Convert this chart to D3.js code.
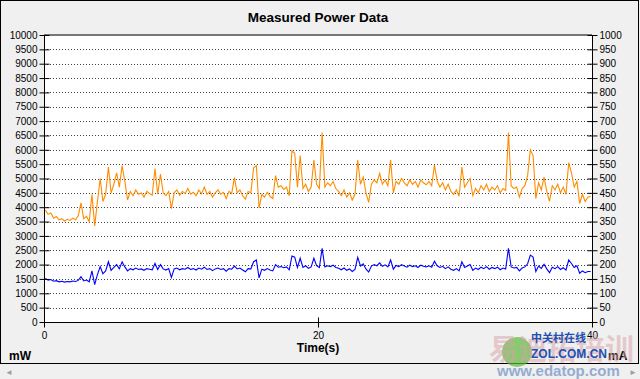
<!DOCTYPE html>
<html>
<head>
<meta charset="utf-8">
<script src="https://cdnjs.cloudflare.com/ajax/libs/d3/7.8.5/d3.min.js"></script>
<style>
  html, body { margin: 0; padding: 0; background: #f0f0f0; }
  svg { display: block; font-family: "Liberation Sans", Arial, sans-serif; }
</style>
</head>
<body>
<div id="chart"></div>
<script>
// samples every 0.2 s, first one at 0.1 s
var startTime = 0.1, timeStep = 0.2;

// power, mW (left axis)
var powerMW = [
  3900,3750,3800,3620,3680,3560,3600,3520,3580,3540,
  3620,3560,3700,4150,3600,3680,3500,4450,3350,4200,
  5000,4200,4450,5400,4500,4800,5200,4700,5450,4900,
  4250,4550,4400,4600,4450,4500,4350,4550,4480,4420,
  5350,4450,5150,4500,4400,4550,3950,4500,4600,4420,
  4550,4480,4650,4450,4520,4400,4600,4470,4700,4450,
  4550,4350,4500,4600,4450,4520,4300,4550,4480,5030,
  4500,4600,4400,4280,4550,4500,5370,5450,3970,4450,
  4350,4520,4380,4300,5100,4700,4750,4620,4700,4400,
  5960,5880,4700,5800,4650,4800,4550,4700,5640,4800,
  4650,6600,4700,4850,4750,4900,4650,4550,4400,4600,
  4350,4500,4250,4450,5640,4800,5050,4500,4170,4800,
  4950,4850,5180,4800,4950,4750,5640,4500,4900,4800,
  5000,4850,4750,4950,4800,4900,4700,4950,4850,4780,
  4900,4750,5470,4900,4700,4850,4600,4800,4550,4450,
  4600,4380,5400,4700,4850,5000,4400,4650,4500,4750,
  4600,4800,4550,4700,4600,4750,4500,4650,4580,6600,
  4750,4650,4700,4350,4650,4750,5100,6000,5800,4300,
  4850,4600,5050,4550,4200,4750,4600,4800,4500,4700,
  4450,5550,5200,4700,4900,4130,4450,4200,4350,4380
];

// current, mA (right axis)
var currentMA = [
  152,146,148,142,144,140,142,139,141,140,
  143,141,145,158,143,146,140,178,130,165,
  193,168,178,210,180,190,200,185,210,192,
  178,186,182,188,183,185,180,186,184,182,
  204,183,200,185,181,186,155,185,188,182,
  186,184,190,183,186,181,188,184,191,183,
  186,179,185,188,183,186,177,186,184,195,
  185,188,181,175,186,185,210,216,154,184,
  180,186,181,178,200,191,193,189,192,182,
  230,226,190,222,190,196,187,192,222,196,
  190,257,192,196,193,198,190,187,182,188,
  180,185,176,183,225,195,203,185,174,195,
  200,196,206,194,199,192,216,184,197,193,
  200,195,191,198,193,196,190,198,194,192,
  196,191,212,196,190,194,186,192,184,180,
  186,178,210,190,195,200,180,188,183,191,
  186,193,184,190,186,191,182,188,185,257,
  192,188,190,178,188,192,203,233,226,176,
  195,187,201,185,172,191,186,193,183,189,
  181,216,204,190,196,170,178,172,176,176
];

var leftTicks = d3.range(0, 10001, 500);
var rightTicks = d3.range(0, 1001, 50);
var timeTicks = [0, 20, 40];

var W = 640, H = 379;
var svg = d3.select("#chart").append("svg").attr("width", W).attr("height", H);

// window frame
svg.append("rect").attr("x", 0.5).attr("y", 0.5).attr("width", 638).attr("height", 363)
  .attr("fill", "#f0f0f0").attr("stroke", "#000");
svg.append("text").attr("x", 5).attr("y", 375).attr("font-size", 8).attr("fill", "#a0a0a0").text("◄");
svg.append("text").attr("x", 629).attr("y", 375).attr("font-size", 8).attr("fill", "#a0a0a0").text("►");

var x = d3.scaleLinear().domain([0, 40]).range([44, 592]);
var yL = d3.scaleLinear().domain([0, 10000]).range([322, 35]);
var yR = d3.scaleLinear().domain([0, 1000]).range([322, 35]);

svg.append("rect").attr("x", 44).attr("y", 35).attr("width", 548).attr("height", 287).attr("fill", "#fff");

// dotted grid
svg.append("g").selectAll("line").data(leftTicks.filter(function(d) { return d > 0 && d < 10000; }))
  .enter().append("line")
  .attr("x1", 44).attr("x2", 592)
  .attr("y1", function(d) { return Math.round(yL(d)) + 0.5; })
  .attr("y2", function(d) { return Math.round(yL(d)) + 0.5; })
  .attr("stroke", "#444").attr("stroke-dasharray", "1,2");

svg.append("line").attr("x1", 44).attr("x2", 592).attr("y1", 35).attr("y2", 35)
  .attr("stroke", "#777").attr("stroke-width", 2);

// series
var power = powerMW.map(function(v, i) { return [startTime + i * timeStep, v]; });
var current = currentMA.map(function(v, i) { return [startTime + i * timeStep, v]; });

svg.append("path").datum(current)
  .attr("fill", "none").attr("stroke", "#0000ff").attr("stroke-width", 1.1)
  .attr("d", d3.line().x(function(d) { return x(d[0]); }).y(function(d) { return yR(d[1]); }));

svg.append("path").datum(power)
  .attr("fill", "none").attr("stroke", "#ff8c00").attr("stroke-width", 1.1)
  .attr("d", d3.line().x(function(d) { return x(d[0]); }).y(function(d) { return yL(d[1]); }));

// axes
function styleAxis(g, a, b, horiz) {
  g.select(".domain").remove();
  g.selectAll(".tick line").attr("stroke", "#000")
    .attr(horiz ? "y1" : "x1", a).attr(horiz ? "y2" : "x2", b);
  g.selectAll(".tick text").attr("fill", "#000").attr("font-size", 10);
}

var gl = svg.append("g").attr("transform", "translate(44.5,0)")
  .call(d3.axisLeft(yL).tickValues(leftTicks).tickSize(5).tickPadding(2).tickFormat(d3.format("d")));
styleAxis(gl, -5, 5, false);

var gr = svg.append("g").attr("transform", "translate(592.5,0)")
  .call(d3.axisRight(yR).tickValues(rightTicks).tickSize(5).tickPadding(2).tickFormat(d3.format("d")));
styleAxis(gr, -5, 5, false);

var gb = svg.append("g").attr("transform", "translate(0,322.5)")
  .call(d3.axisBottom(x).tickValues(timeTicks).tickSize(5).tickPadding(4));
styleAxis(gb, -5, 5, true);

svg.append("line").attr("x1", 44.5).attr("x2", 44.5).attr("y1", 35).attr("y2", 327).attr("stroke", "#000");
svg.append("line").attr("x1", 592.5).attr("x2", 592.5).attr("y1", 35).attr("y2", 327).attr("stroke", "#000");
svg.append("line").attr("x1", 40).attr("x2", 597).attr("y1", 322.5).attr("y2", 322.5).attr("stroke", "#000");

// titles
svg.append("text").attr("x", 318).attr("y", 22).attr("text-anchor", "middle")
  .attr("font-size", 13.5).attr("font-weight", "bold").text("Measured Power Data");
svg.append("text").attr("x", 318).attr("y", 352).attr("text-anchor", "middle")
  .attr("font-size", 12).attr("font-weight", "bold").text("Time(s)");
svg.append("text").attr("x", 9).attr("y", 360)
  .attr("font-size", 12).attr("font-weight", "bold").text("mW");
svg.append("text").attr("x", 608).attr("y", 360)
  .attr("font-size", 12).attr("font-weight", "bold").text("mA");

// watermark (sits over the corner, as in the screenshot)
var wm = svg.append("g");
wm.append("circle").attr("cx", 517).attr("cy", 352).attr("r", 15).attr("fill", "#5cb83c").attr("opacity", 0.7);
wm.append("text").attr("x", 489).attr("y", 360).attr("font-size", 29).attr("font-weight", "bold")
  .attr("font-family", "Noto Sans CJK SC").attr("fill", "#d9a0a8").attr("opacity", 0.5).text("易迪拓培训");
wm.append("text").attr("x", 531).attr("y", 342).attr("font-size", 11).attr("font-weight", "bold")
  .attr("font-family", "Noto Sans CJK SC").attr("fill", "#2050b0").text("中关村在线");
wm.append("text").attr("x", 531).attr("y", 358).attr("font-size", 12).attr("font-weight", "bold")
  .attr("fill", "#2050b0").text("ZOL.COM.CN");
wm.append("text").attr("x", 497).attr("y", 376).attr("font-size", 15).attr("font-weight", "bold")
  .attr("fill", "#7f9cc8").attr("opacity", 0.8).text("www.edatop.com");
</script>
</body>
</html>
